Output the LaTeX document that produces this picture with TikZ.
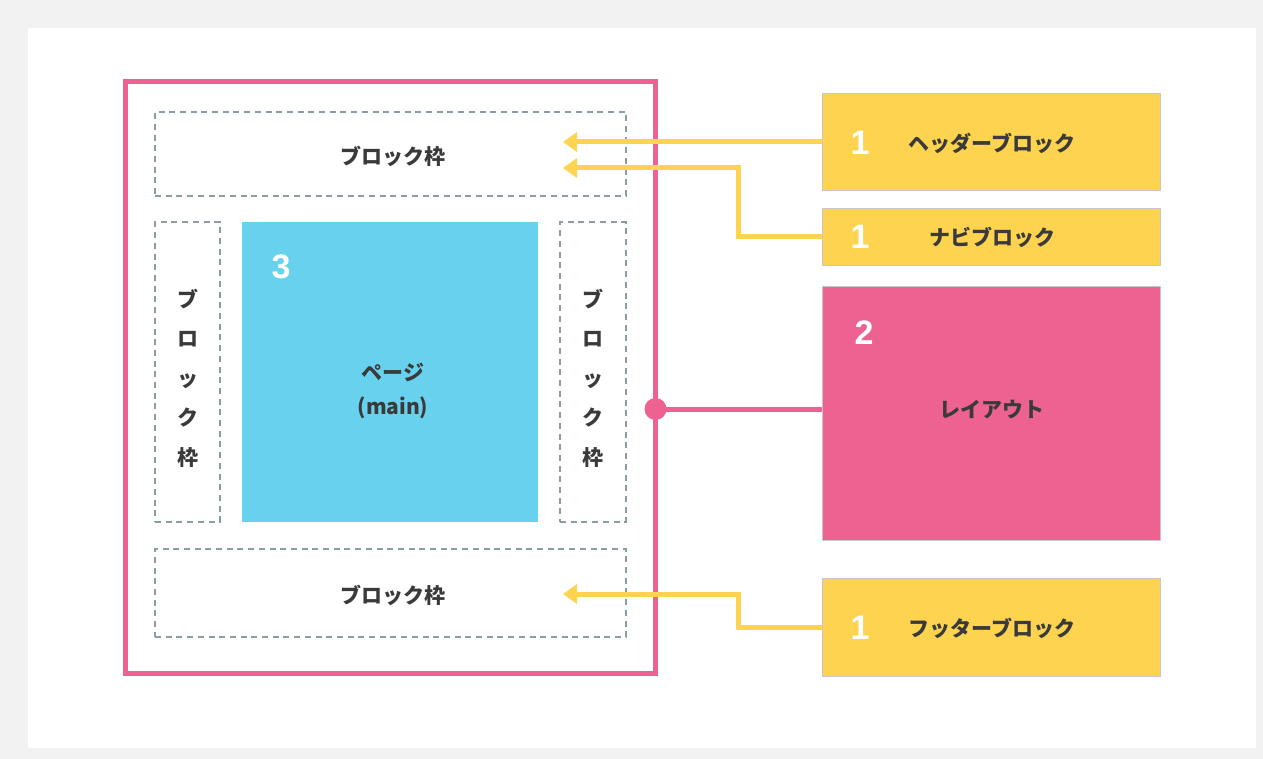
\documentclass[tikz,border=0pt]{standalone}
\usepackage{fontspec}
\setmainfont{Liberation Sans}
\newfontfamily\jp{Noto Sans CJK JP}
\usetikzlibrary{arrows.meta}
\definecolor{bgc}{HTML}{F2F2F2}
\definecolor{pinkc}{HTML}{EE6291}
\definecolor{yel}{HTML}{FDD34F}
\definecolor{bluec}{HTML}{67D1EE}
\definecolor{dashc}{HTML}{8C9DA1}
\definecolor{txt}{HTML}{3A3A3A}
\begin{document}
\begin{tikzpicture}[x=1pt,y=-1pt,
  box/.style={rectangle, inner sep=0pt, outer sep=0pt, anchor=north west},
  dbox/.style={box, draw=dashc, line width=2pt, dash pattern=on 6pt off 4.7pt, fill=white},
  ybox/.style={box, fill=yel, draw=black!22, line width=0.8pt},
  lbl/.style={font=\jp\bfseries\fontsize{21}{25}\selectfont, text=txt, inner sep=0pt},
  vlbl/.style={font=\jp\bfseries\fontsize{21}{39.5}\selectfont, text=txt, inner sep=0pt, align=center},
  num/.style={font=\bfseries\fontsize{34}{34}\selectfont, text=white, inner sep=0pt},
  yarrow/.style={draw=yel, line width=5pt, -{Triangle[length=14pt,width=19pt]}},
]
\useasboundingbox (0,0) rectangle (1263,759);
\fill[bgc] (0,0) rectangle (1263,759);
\fill[white] (28,28) rectangle (1256,748);

% frame (layout)
\node[box, draw=pinkc, line width=5pt, fill=white, minimum width=530pt, minimum height=591.5pt] (frame) at (125.5,81.5) {};
% block frames
\node[dbox, minimum width=471pt, minimum height=84pt] (top) at (155,112) {};
\node[dbox, minimum width=65pt, minimum height=299pt] (left) at (155,222.5) {};
\node[dbox, minimum width=66pt, minimum height=299pt] (right) at (560,222.5) {};
\node[dbox, minimum width=471pt, minimum height=88pt] (bot) at (155,549) {};
\node[box, fill=bluec, minimum width=296pt, minimum height=300pt] (page) at (242,222) {};

\node[lbl] (toplbl) at (393,156) {ブロック枠};
\node[lbl] (botlbl) at (393,595) {ブロック枠};
\node[vlbl] (leftlbl) at (187.5,378) {ブ\\ロ\\ッ\\ク\\枠};
\node[vlbl] (rightlbl) at (593,378) {ブ\\ロ\\ッ\\ク\\枠};
\node[lbl, align=center, font=\jp\bfseries\fontsize{21}{34}\selectfont] (pagelbl) at (393,391) {ページ\\(main)};
\node[num] (n3) at (281,267) {3};

% right side boxes
\node[ybox, minimum width=338pt, minimum height=97pt] (hdr) at (822,93) {};
\node[ybox, minimum width=338pt, minimum height=57pt] (nav) at (822,208.5) {};
\node[box, fill=pinkc, draw=black!22, line width=0.8pt, minimum width=338pt, minimum height=254pt] (lay) at (822,286) {};
\node[ybox, minimum width=338pt, minimum height=98pt] (ftr) at (822,578) {};

\node[num] (n1a) at (860,143) {1};
\node[num] (n1b) at (860,237) {1};
\node[num] (n2) at (864,333) {2};
\node[num] (n1c) at (860,628) {1};
\node[lbl] (hdrlbl) at (992,143) {ヘッダーブロック};
\node[lbl] (navlbl) at (992,237) {ナビブロック};
\node[lbl] (laylbl) at (992,410) {レイアウト};
\node[lbl] (ftrlbl) at (992,628) {フッターブロック};

% connectors
\coordinate (tipA) at (563,142);
\coordinate (tipB) at (563,168);
\coordinate (tipC) at (563,594);
\coordinate (bendB) at (738,168);
\coordinate (bendC) at (738,594);
\draw[yarrow] (hdr.west |- tipA) -- (tipA);
\draw[yarrow] (nav.west) -| (bendB) -- (tipB);
\draw[yarrow] (ftr.west) -| (bendC) -- (tipC);

\coordinate (dot) at (655.5,409);
\draw[pinkc, line width=5pt] (dot) -- (lay.west |- dot);
\fill[pinkc] (dot) circle (11pt);
\end{tikzpicture}
\end{document}
